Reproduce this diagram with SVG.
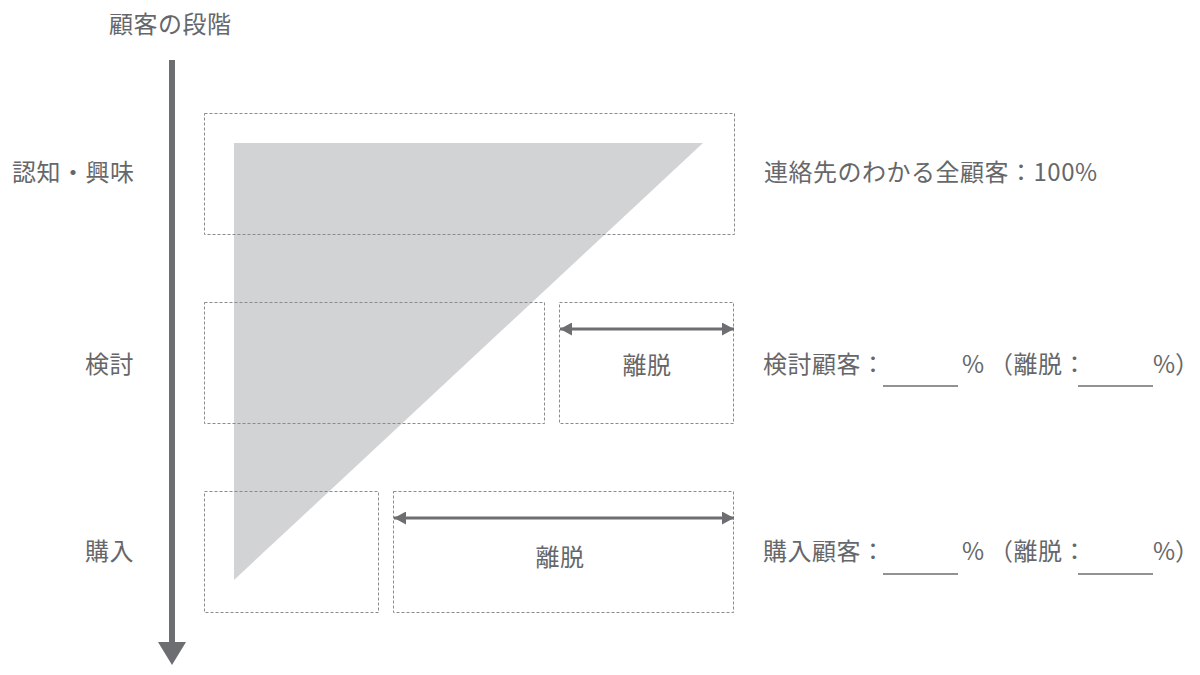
<svg xmlns="http://www.w3.org/2000/svg" width="1200" height="675" viewBox="0 0 1200 675">
<style>
.t{font-family:"Noto Sans CJK JP","Noto Sans",sans-serif;font-size:24px;fill:#66676a;letter-spacing:0.5px}
.p{letter-spacing:0}
.box{fill:none;stroke:#8a8b8e;stroke-width:1;stroke-dasharray:3 2}
.dbl{stroke:#6d6e71;stroke-width:3;fill:none;marker-start:url(#ah);marker-end:url(#ah)}
.ul{stroke:#6d6e71;stroke-width:1.5}
</style>
<defs>
<marker id="ah" viewBox="0 0 12 13" refX="12" refY="6.5" markerWidth="12" markerHeight="13" markerUnits="userSpaceOnUse" orient="auto-start-reverse">
<path d="M0,0 L12,6.5 L0,13 Z" fill="#6d6e71"/>
</marker>
</defs>
<rect width="1200" height="675" fill="#ffffff"/>
<g id="axis">
<rect x="169" y="60" width="6" height="585" fill="#6d6e71"/>
<path d="M158,642 L186,642 L172,665 Z" fill="#6d6e71"/>
<text class="t" x="109" y="33">顧客の段階</text>
</g>
<g id="funnel">
<path d="M234,143 L703,143 L234,580 Z" fill="#d1d3d4"/>
</g>
<g id="stage1">
<rect class="box" x="204.5" y="113.5" width="530" height="121"/>
<text class="t" x="12" y="181">認知・興味</text>
<text class="t" x="764" y="181">連絡先のわかる全顧客：100%</text>
</g>
<g id="stage2">
<rect class="box" x="204.5" y="302.5" width="340" height="121"/>
<rect class="box" x="559.5" y="302.5" width="174" height="121"/>
<text class="t" x="647" y="374" text-anchor="middle">離脱</text>
<text class="t" x="85" y="373">検討</text>
<text class="t" x="763" y="373">検討顧客：</text>
<text class="t" x="962" y="373">%</text>
<text class="t" x="989" y="373">（離脱：</text>
<text class="t p" x="1199" y="373" text-anchor="end">%）</text>
<line class="ul" x1="883" y1="386" x2="958" y2="386"/>
<line class="ul" x1="1078" y1="386" x2="1153" y2="386"/>
</g>
<g id="stage3">
<rect class="box" x="204.5" y="491.5" width="174" height="121"/>
<rect class="box" x="393.5" y="491.5" width="340" height="121"/>
<text class="t" x="560" y="566" text-anchor="middle">離脱</text>
<text class="t" x="85" y="560">購入</text>
<text class="t" x="763" y="560">購入顧客：</text>
<text class="t" x="962" y="560">%</text>
<text class="t" x="989" y="560">（離脱：</text>
<text class="t p" x="1199" y="560" text-anchor="end">%）</text>
<line class="ul" x1="883" y1="574" x2="958" y2="574"/>
<line class="ul" x1="1078" y1="574" x2="1153" y2="574"/>
</g>
<g id="connectors">
<line class="dbl" x1="560" y1="329" x2="734" y2="329"/>
<line class="dbl" x1="394" y1="518" x2="734" y2="518"/>
</g>
</svg>
